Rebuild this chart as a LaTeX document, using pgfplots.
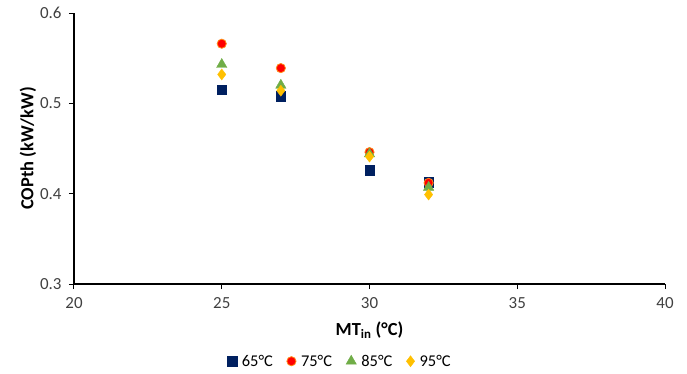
\documentclass[border=0pt]{standalone}
\usepackage{fontspec}
\setmainfont{Carlito}
\usepackage{pgfplots}
\pgfplotsset{compat=1.18}
\usetikzlibrary{calc}

\definecolor{cnavy}{HTML}{002060}
\definecolor{cred}{HTML}{FF0000}
\definecolor{cedge}{HTML}{FF8C1A}
\definecolor{cgreen}{HTML}{70AD47}
\definecolor{cgold}{HTML}{FFC000}

\begin{document}
\begin{tikzpicture}
\begin{axis}[
  name=ax,
  scale only axis,
  width=591bp, height=271bp,
  xmin=20, xmax=40, ymin=0.3, ymax=0.6,
  xtick={20,25,30,35,40},
  ytick={0.3,0.4,0.5,0.6},
  yticklabel style={xshift=-4bp, /pgf/number format/fixed,
    /pgf/number format/fixed zerofill, /pgf/number format/precision=1},
  /pgf/number format/assume math mode=true,
  axis x line*=bottom, axis y line*=left,
  axis line style={line width=1.3bp, -},
  tick style={line width=1bp, black},
  tick align=outside,
  major tick length=5bp,
  ticklabel style={font=\fontsize{17}{19}\selectfont, text=black!75},
  xticklabel style={yshift=-5bp},
  xlabel={\textbf{MT\textsubscript{in} (°C)}},
  ylabel={\textbf{COPth (kW/kW)}},
  label style={font=\fontsize{18.5}{20}\selectfont},
  xlabel style={yshift=-6bp},
  ylabel style={yshift=-3bp},
  legend columns=4,
  legend style={draw=none, at={(0.45,-0.285)}, anchor=center,
    font=\fontsize{16.5}{18}\selectfont,
    /tikz/every odd column/.append style={column sep=3bp},
    /tikz/every even column/.append style={column sep=12bp}},
  legend cell align=left,
  clip=false,
]
\addplot[only marks, mark=square*, mark size=4.8bp, color=cnavy]
  coordinates {(25,0.515) (27,0.508) (30,0.426) (32,0.413)};
\addlegendentry{65°C}
\addplot[only marks, mark=*, mark size=4.6bp, draw=cedge, fill=cred, line width=0.8bp]
  coordinates {(25,0.566) (27,0.539) (30,0.446) (32,0.412)};
\addlegendentry{75°C}
\addplot[only marks, mark=triangle*, mark size=6bp, color=cgreen]
  coordinates {(25,0.543) (27,0.520) (30,0.444) (32,0.407)};
\addlegendentry{85°C}
\addplot[only marks, mark=diamond*, mark size=5.5bp, color=cgold]
  coordinates {(25,0.532) (27,0.514) (30,0.441) (32,0.399)};
\addlegendentry{95°C}
\end{axis}
\path ($(ax.south west)+(-74bp,-90bp)$) rectangle ($(ax.north east)+(22bp,13bp)$);
\end{tikzpicture}
\end{document}
